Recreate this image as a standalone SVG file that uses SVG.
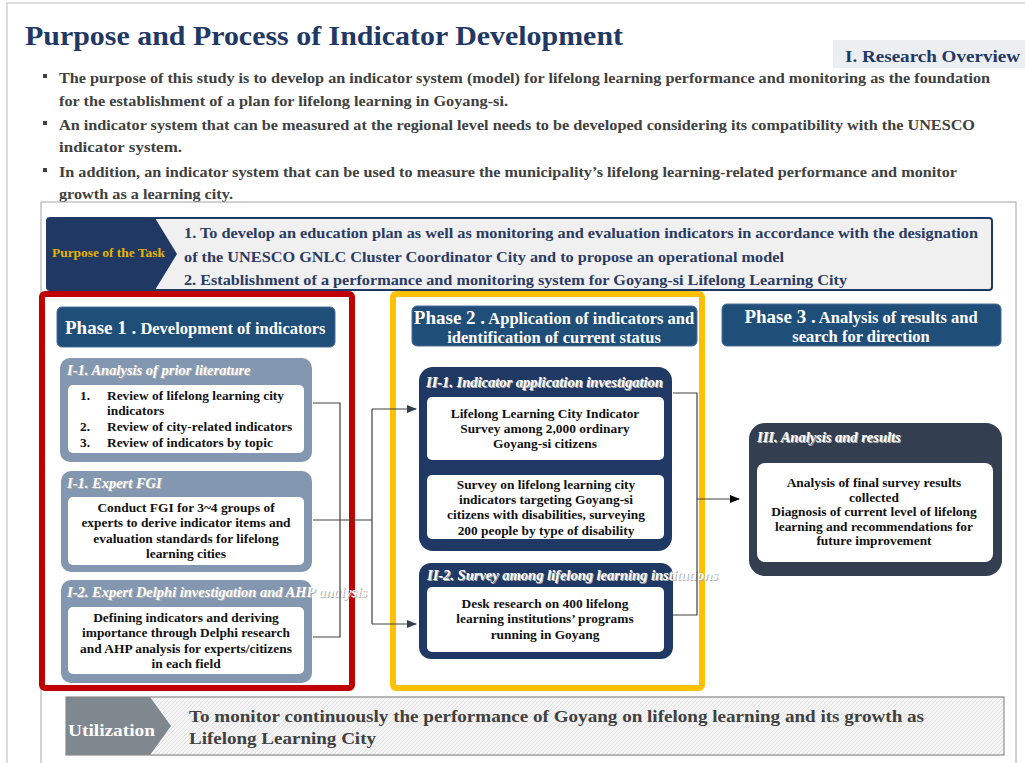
<svg xmlns="http://www.w3.org/2000/svg" width="1025" height="763" viewBox="0 0 1025 763">
<defs>
<style>
text{font-family:"Liberation Serif","Times New Roman",serif;font-weight:bold}
.bul{font-size:15px;fill:#404040}
.pur{font-size:15px;fill:#2b3a63}
.ph{fill:#ffffff;font-size:16.5px}
.phb{font-size:19px}
.sub{font-style:italic;font-size:14.5px;fill:#ffffff}
.subsh{font-style:italic;font-size:14.5px;fill:#b4b4b4}
.in{font-size:13.4px;fill:#111111}
.mid{text-anchor:middle}
.hdr{fill:#1f4e79;stroke:#4a6f99;stroke-width:1}
.boxA{fill:#8497b0}
.boxB{fill:#1f3864}
.boxC{fill:#333f50}
.wb{fill:#ffffff}
.con{fill:none;stroke:#404040;stroke-width:1.2}
</style>
<marker id="arN" markerWidth="10" markerHeight="8" refX="9" refY="4" orient="auto" markerUnits="userSpaceOnUse"><path d="M0,0 L10,4 L0,8 Z" fill="#333f50"/></marker>
<marker id="arK" markerWidth="10" markerHeight="8" refX="9" refY="4" orient="auto" markerUnits="userSpaceOnUse"><path d="M0,0 L10,4 L0,8 Z" fill="#000000"/></marker>
<pattern id="hatch" patternUnits="userSpaceOnUse" width="4" height="4">
<rect width="4" height="4" fill="#f5f5f5"/>
<path d="M-1,1 L1,-1 M0,4 L4,0 M3,5 L5,3" stroke="#dcdcdc" stroke-width="0.8"/>
</pattern>
</defs>
<rect width="1025" height="763" fill="#ffffff"/>
<rect x="7" y="3" width="1030" height="780" fill="none" stroke="#bfbfbf" stroke-width="1"/>

<g id="title">
<text x="25" y="45" font-size="28" fill="#1f3864" textLength="598" lengthAdjust="spacingAndGlyphs">Purpose and Process of Indicator Development</text>
</g>
<g id="section-tag">
<rect x="833" y="40" width="192" height="28" fill="#eceef2"/>
<text x="845" y="62" font-size="17" fill="#1f3864" textLength="175" lengthAdjust="spacingAndGlyphs">I. Research Overview</text>
</g>

<g id="bullets">
<rect x="43" y="74" width="4" height="4" fill="#404040"/>
<rect x="43" y="121" width="4" height="4" fill="#404040"/>
<rect x="43" y="168" width="4" height="4" fill="#404040"/>
<text class="bul" x="59" y="83" textLength="931" lengthAdjust="spacingAndGlyphs">The purpose of this study is to develop an indicator system (model) for lifelong learning performance and monitoring as the foundation</text>
<text class="bul" x="59" y="106" textLength="449" lengthAdjust="spacingAndGlyphs">for the establishment of a plan for  lifelong learning in Goyang-si.</text>
<text class="bul" x="59" y="130" textLength="916" lengthAdjust="spacingAndGlyphs">An indicator system that can be measured at the regional level needs to be developed considering its compatibility with the UNESCO</text>
<text class="bul" x="59" y="152" textLength="123" lengthAdjust="spacingAndGlyphs">indicator system.</text>
<text class="bul" x="59" y="177" textLength="898" lengthAdjust="spacingAndGlyphs">In addition, an indicator system that can be used to measure the municipality’s lifelong learning-related performance and monitor</text>
<text class="bul" x="59" y="199" textLength="174" lengthAdjust="spacingAndGlyphs">growth as a learning city.</text>
</g>

<rect x="41" y="202" width="975" height="600" fill="none" stroke="#a6a6a6" stroke-width="1"/>

<g id="purpose">
<rect x="47" y="218" width="945" height="72" rx="3" fill="#f0f0f0" stroke="#1f3864" stroke-width="2"/>
<path d="M47,218 H155 L177,254 L155,290 H47 Z" fill="#1f3864"/>
<text x="52" y="257" font-size="12" fill="#e6b400" textLength="113" lengthAdjust="spacingAndGlyphs">Purpose of the Task</text>
<text class="pur" x="184" y="238" textLength="794" lengthAdjust="spacingAndGlyphs">1. To develop an education plan as well as monitoring and evaluation indicators in accordance with the designation</text>
<text class="pur" x="184" y="262" textLength="600" lengthAdjust="spacingAndGlyphs">of the UNESCO GNLC Cluster Coordinator City and to propose an operational model</text>
<text class="pur" x="184" y="285" textLength="663" lengthAdjust="spacingAndGlyphs">2. Establishment of a performance and monitoring system for Goyang-si Lifelong Learning City</text>
</g>

<g id="phase1-frame"><rect x="42" y="294" width="310" height="394" rx="3" fill="none" stroke="#c00000" stroke-width="6"/></g>
<g id="phase2-frame"><rect x="393" y="294" width="309" height="394" rx="3" fill="none" stroke="#ffc000" stroke-width="6"/></g>

<g id="phase1-header">
<rect class="hdr" x="57" y="307" width="278" height="40" rx="5"/>
<text class="ph" x="65" y="334"><tspan class="phb">Phase 1 .</tspan> Development of indicators</text>
</g>
<g id="phase2-header">
<rect class="hdr" x="412" y="306" width="285" height="40" rx="5"/>
<text class="ph mid" x="554" y="324"><tspan class="phb">Phase 2 .</tspan> Application of indicators and</text>
<text class="ph mid" x="554" y="343">identification of current status</text>
</g>
<g id="phase3-header">
<rect class="hdr" x="722" y="304" width="279" height="42" rx="5"/>
<text class="ph mid" x="861" y="323"><tspan class="phb">Phase 3 .</tspan> Analysis of results and</text>
<text class="ph mid" x="861" y="342">search for direction</text>
</g>

<g id="node-I1-literature">
<rect class="boxA" x="60" y="358" width="252" height="104" rx="10"/>
<text class="subsh" x="68" y="376">I-1. Analysis of prior literature</text>
<text class="sub" x="67" y="375">I-1. Analysis of prior literature</text>
<rect class="wb" x="68" y="385" width="236" height="68" rx="5"/>
<text class="in" x="80" y="400">1.</text><text class="in" x="107" y="400">Review of lifelong learning city</text>
<text class="in" x="107" y="415">indicators</text>
<text class="in" x="80" y="431">2.</text><text class="in" x="107" y="431">Review of city-related indicators</text>
<text class="in" x="80" y="447">3.</text><text class="in" x="107" y="447">Review of indicators by topic</text>
</g>

<g id="node-I1-fgi">
<rect class="boxA" x="61" y="471" width="251" height="101" rx="10"/>
<text class="subsh" x="68" y="489">I-1. Expert FGI</text>
<text class="sub" x="67" y="488">I-1. Expert FGI</text>
<rect class="wb" x="68" y="497" width="236" height="68" rx="5"/>
<text class="in mid" x="186" y="512">Conduct FGI for 3~4 groups of</text>
<text class="in mid" x="186" y="527">experts to derive indicator items and</text>
<text class="in mid" x="186" y="543">evaluation standards for lifelong</text>
<text class="in mid" x="186" y="558">learning cities</text>
</g>

<g id="node-I2-delphi">
<rect class="boxA" x="61" y="580" width="251" height="103" rx="10"/>
<text class="subsh" x="68" y="598">I-2. Expert Delphi investigation and AHP analysis</text>
<text class="sub" x="67" y="597">I-2. Expert Delphi investigation and AHP analysis</text>
<rect class="wb" x="68" y="607" width="236" height="67" rx="5"/>
<text class="in mid" x="186" y="622">Defining indicators and deriving</text>
<text class="in mid" x="186" y="637">importance through Delphi research</text>
<text class="in mid" x="186" y="653">and AHP  analysis for experts/citizens</text>
<text class="in mid" x="186" y="668">in each field</text>
</g>

<g id="node-II1">
<rect class="boxB" x="419" y="367" width="253" height="184" rx="14"/>
<text class="subsh" x="427" y="388">II-1. Indicator application investigation</text>
<text class="sub" x="426" y="387">II-1. Indicator application investigation</text>
<rect class="wb" x="427" y="397" width="237" height="63" rx="5"/>
<text class="in mid" x="545" y="418">Lifelong Learning City Indicator</text>
<text class="in mid" x="545" y="433">Survey among 2,000 ordinary</text>
<text class="in mid" x="545" y="448">Goyang-si citizens</text>
<rect class="wb" x="427" y="475" width="237" height="64" rx="5"/>
<text class="in mid" x="546" y="489">Survey on lifelong learning city</text>
<text class="in mid" x="546" y="504">indicators targeting Goyang-si</text>
<text class="in mid" x="546" y="519">citizens with disabilities, surveying</text>
<text class="in mid" x="546" y="535">200 people by  type of disability</text>
</g>

<g id="node-II2">
<rect class="boxB" x="419" y="563" width="254" height="96" rx="12"/>
<text class="subsh" x="428" y="581">II-2. Survey among lifelong learning institutions</text>
<text class="sub" x="427" y="580">II-2. Survey among lifelong learning institutions</text>
<rect class="wb" x="427" y="587" width="237" height="65" rx="5"/>
<text class="in mid" x="545" y="608">Desk research on 400 lifelong</text>
<text class="in mid" x="545" y="623">learning institutions’ programs</text>
<text class="in mid" x="545" y="639">running in Goyang</text>
</g>

<g id="node-III">
<rect class="boxC" x="749" y="423" width="253" height="153" rx="16"/>
<text class="subsh" x="758" y="443">III. Analysis and results</text>
<text class="sub" x="757" y="442">III. Analysis and results</text>
<rect class="wb" x="757" y="463" width="236" height="99" rx="8"/>
<text class="in mid" x="874" y="487">Analysis of final survey results</text>
<text class="in mid" x="874" y="502">collected</text>
<text class="in mid" x="874" y="516">Diagnosis of current level of lifelong</text>
<text class="in mid" x="874" y="531">learning and recommendations for</text>
<text class="in mid" x="874" y="545">future improvement</text>
</g>

<g id="connectors">
<path class="con" d="M313,403 H340 V637 H313"/>
<path class="con" d="M313,520 H372" stroke-width="1.6"/>
<path class="con" d="M372,409 V624"/>
<path class="con" d="M372,409 H416" marker-end="url(#arN)"/>
<path class="con" d="M372,624 H416" marker-end="url(#arN)"/>
<path class="con" d="M673,393 H697 V615 H673"/>
<path class="con" d="M697,499 H739" stroke="#000000" marker-end="url(#arK)"/>
</g>

<g id="utilization">
<rect x="66" y="697" width="938" height="58" fill="url(#hatch)" stroke="#8c8c8c" stroke-width="1.2"/>
<path d="M66,697 H150 L171,726 L150,755 H66 Z" fill="#7f878f"/>
<text x="68" y="736" font-size="17" fill="#ffffff" textLength="87" lengthAdjust="spacingAndGlyphs">Utilization</text>
<text x="189" y="722" font-size="16.5" fill="#404040" textLength="735" lengthAdjust="spacingAndGlyphs">To  monitor continuously the performance of Goyang on lifelong learning and its growth as</text>
<text x="189" y="744" font-size="16.5" fill="#404040" textLength="187" lengthAdjust="spacingAndGlyphs">Lifelong Learning City</text>
</g>
</svg>
